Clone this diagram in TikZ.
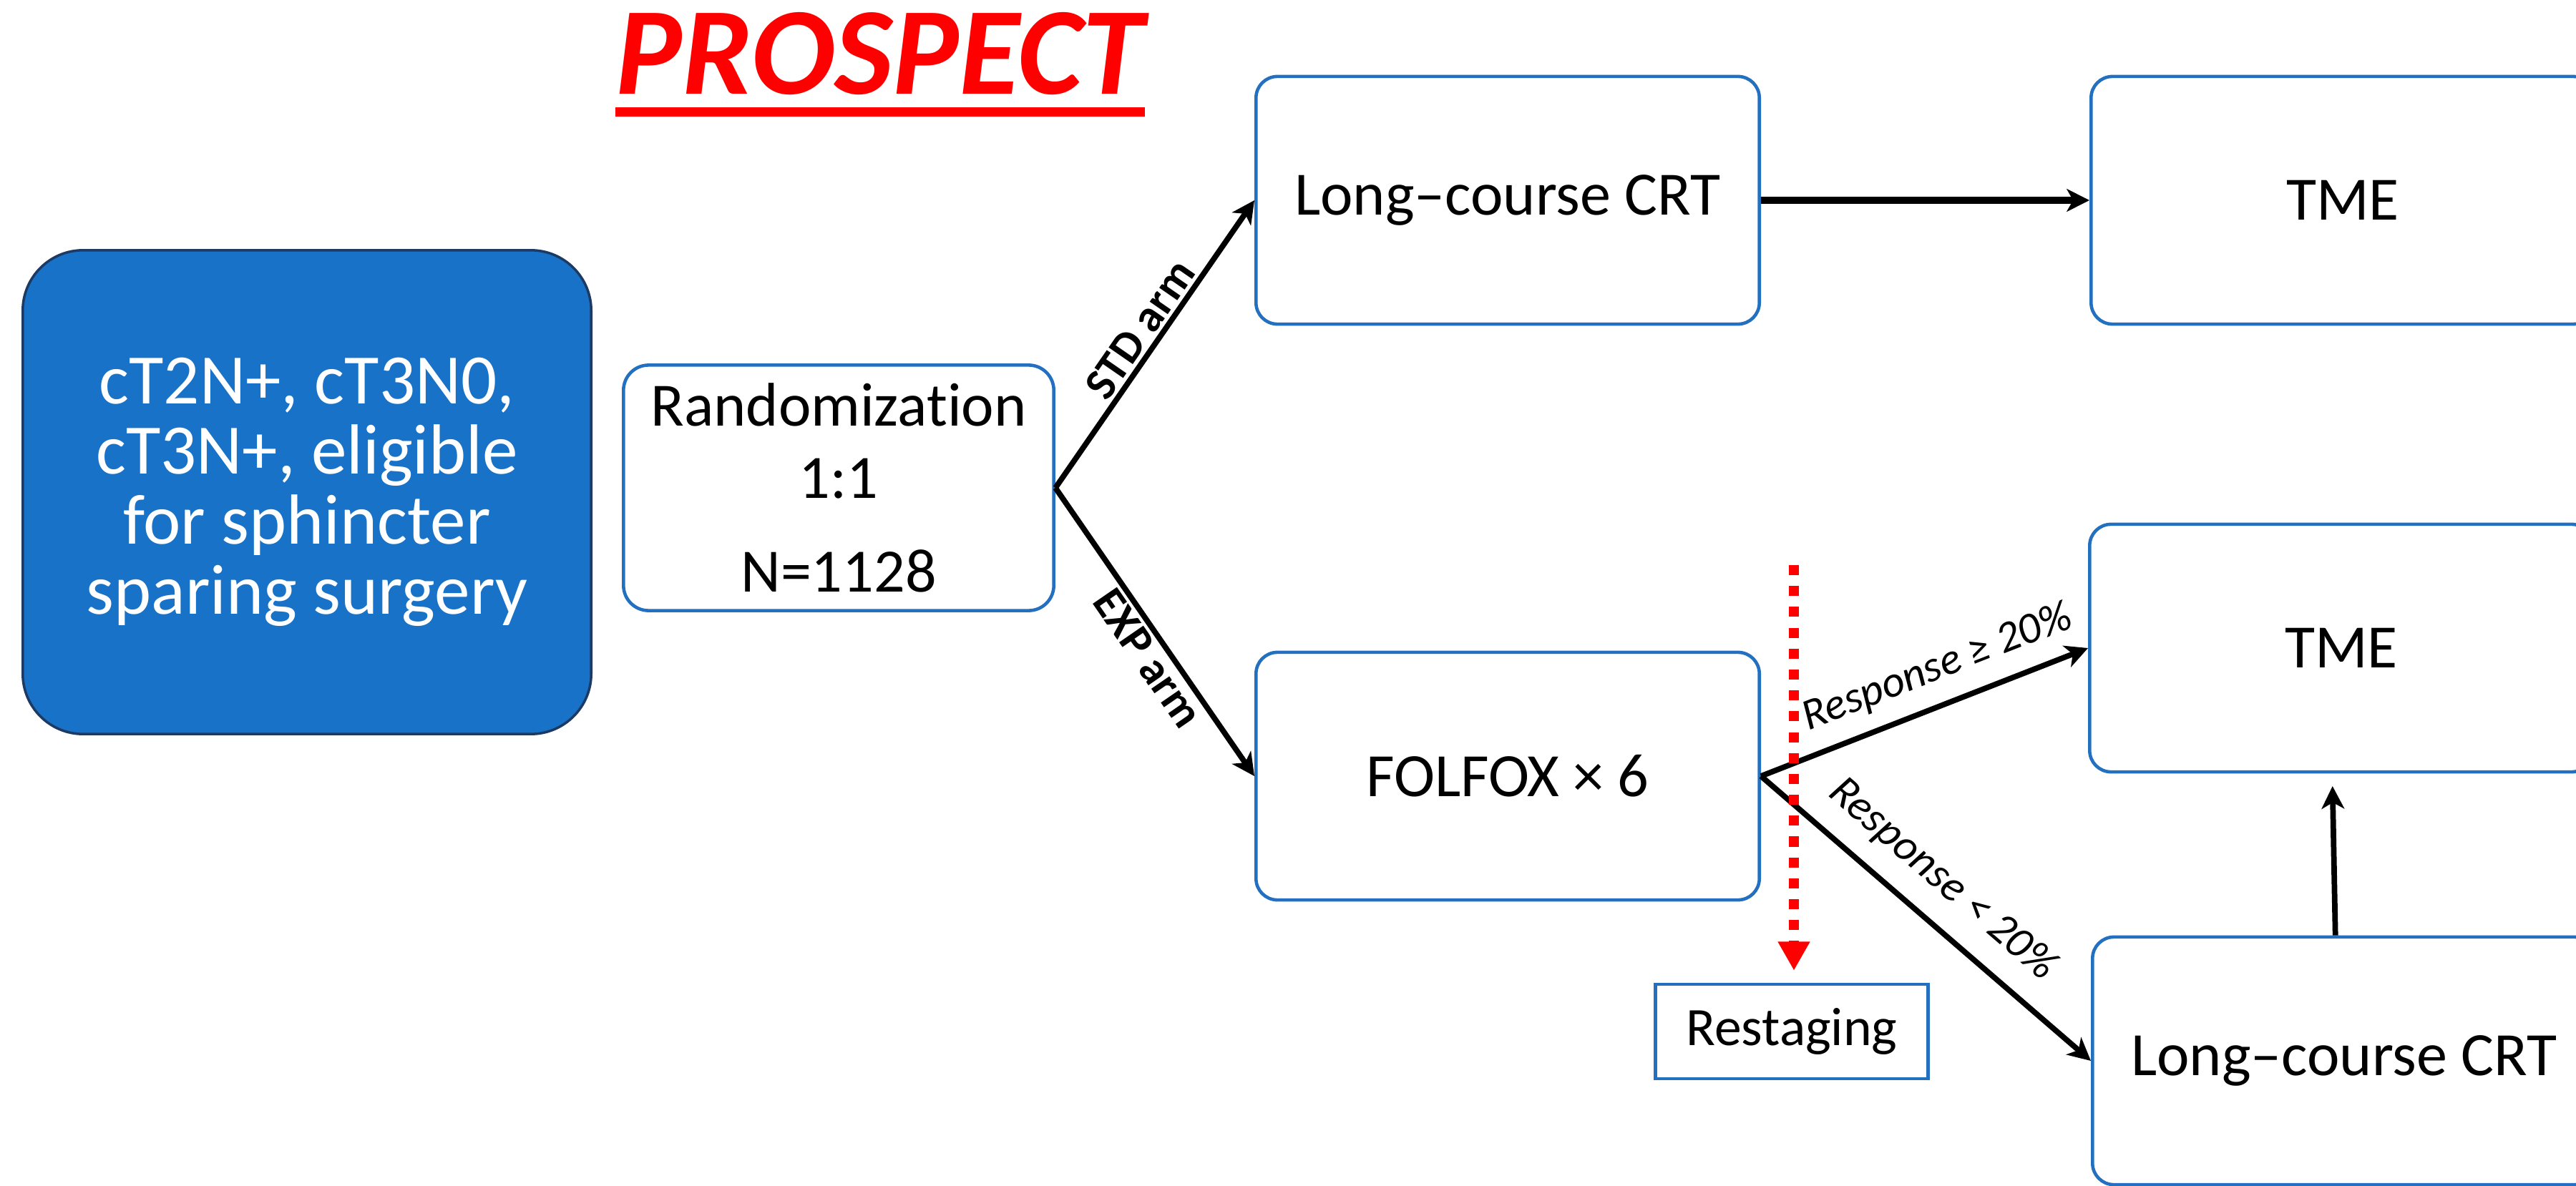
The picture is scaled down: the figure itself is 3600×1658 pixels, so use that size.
\documentclass[tikz,border=0pt]{standalone}
\usepackage{fontspec}
\setmainfont[Ligatures=NoCommon]{Carlito}
\usetikzlibrary{arrows.meta}
\definecolor{boxblue}{RGB}{36,112,192}
\definecolor{fillblue}{RGB}{24,114,200}
\definecolor{edgenavy}{RGB}{28,58,100}
\definecolor{titlered}{RGB}{255,0,0}
\tikzset{
  wbox/.style={draw=boxblue, line width=1.3pt, fill=white, rounded corners=8.5pt,
    minimum width=7.03cm, minimum height=3.46cm, inner sep=0pt,
    font=\fontsize{24.5}{28.5}\selectfont, align=center},
  eligbox/.style={draw=edgenavy, fill=fillblue, line width=1pt, rounded corners=24pt,
    minimum width=7.94cm, minimum height=6.76cm, inner sep=0pt, text=white,
    font=\fontsize{28.2}{27.9}\selectfont, align=center},
  restbox/.style={draw=boxblue, line width=1.3pt, fill=white, minimum width=3.81cm,
    minimum height=1.32cm, inner sep=0pt, font=\fontsize{21.5}{25}\selectfont},
  arr/.style={draw=black, line width=2.2pt, -{Stealth[length=9pt,width=9pt,inset=2.5pt]}},
  armlab/.style={font=\bfseries\fontsize{18}{20}\selectfont, sloped, inner sep=1.2pt},
  resplab/.style={font=\itshape\fontsize{17.5}{20}\selectfont, sloped, inner sep=6pt},
  reddash/.style={draw=titlered, line width=4.2pt, dash pattern=on 4pt off 4.3pt,
    -{Triangle[length=11.5pt,width=12pt]}},
}
\begin{document}
\begin{tikzpicture}[x=0.01cm, y=-0.01cm]
\useasboundingbox (0,0) rectangle (3600,1658);
\fill[white] (0,0) rectangle (3600,1658);
\clip (0,0) rectangle (3600,1658);

% title
\node[anchor=base, text=titlered, font=\bfseries\itshape\fontsize{49.5}{55}\selectfont, inner sep=0pt] (title) at (1230,132) {PROSPECT};
\draw[titlered, line width=3.7pt] (860,156.5) -- (1600,156.5);

% nodes
\node[eligbox] (elig) at (429,688) {cT2N+, cT3N0,\\cT3N+, eligible\\for sphincter\\sparing surgery};
\node[wbox, minimum width=6.01cm, minimum height=3.43cm, rounded corners=10pt] (rand) at (1172,682) {Randomization\\1:1\\[8.8pt]N=1128};
\node[wbox] (crt1) at (2107,280) {Long–course CRT};
\node[wbox] (tme1) at (3274,280) {TME};
\node[wbox] (folfox) at (2107,1085) {FOLFOX × 6};
\node[wbox] (tme2) at (3272,906) {TME};
\node[wbox] (crt2) at (3276,1483) {Long–course CRT};
\node[restbox] (restage) at (2504,1442) {Restaging};

% connectors
\draw[arr] (rand.east) -- node[armlab, above, pos=0.51]{STD arm} (crt1.west);
\draw[arr] (rand.east) -- node[armlab, below, pos=0.55]{EXP arm} (folfox.west);
\draw[arr, line width=2.8pt] (crt1.east) -- (tme1.west);
\draw[arr] (folfox.east) -- node[resplab, above, pos=0.58]{Response ≥ 20\%} (tme2.west);
\draw[arr] (folfox.east) -- node[resplab, above, pos=0.47, inner sep=7.5pt]{Response < 20\%} (crt2.west);
\draw[arr] ([xshift=-3.5pt]crt2.north) -- ([xshift=-3.5pt, yshift=-5pt]tme2.south);

% restaging marker
\coordinate (rtop) at (2507,790);
\coordinate (rbot) at ([yshift=4.8pt]restage.north);
\draw[reddash] (rtop) -- (rtop |- rbot);
\end{tikzpicture}
\end{document}
